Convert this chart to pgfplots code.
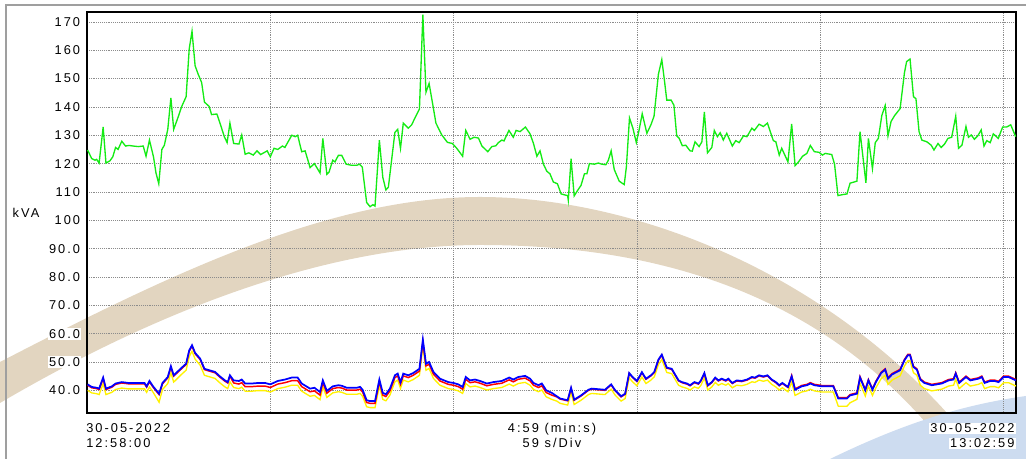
\documentclass[border=0pt]{standalone}
\usepackage{pgfplots}
\pgfplotsset{compat=1.18}
\usepackage{fontspec}
\setmainfont{Liberation Sans}[LetterSpace=16]
\newcommand\lab{\fontsize{9.6}{11}\selectfont}
\definecolor{cgreen}{RGB}{20,235,20}
\definecolor{cbeige}{RGB}{226,213,192}
\definecolor{cwblue}{RGB}{205,220,240}
\begin{document}
\begin{tikzpicture}
\begin{scope}[x=0.75pt,y=0.75pt]
\path[use as bounding box] (0,0) rectangle (1026,459);
% watermark
\fill[cbeige] (0,97) .. controls (170,185) and (330,262) .. (480,262)
  .. controls (640,262) and (850,180) .. (985,0) -- (955,0)
  .. controls (830,170) and (650,214) .. (480,214)
  .. controls (330,214) and (160,150) .. (0,56) -- cycle;
\fill[cwblue] (830,0) .. controls (900,34) and (960,54) .. (1026,63) -- (1026,0) -- cycle;
% outer frame
\draw[gray!75, line width=1pt] (6,0) -- (6,454) -- (1026,454);
\end{scope}
\begin{axis}[
  at={(65.25pt,34.5pt)}, anchor=south west,
  scale only axis, width=696.75pt, height=300.75pt,
  xmin=0, xmax=299, ymin=32, ymax=173.5,
  xtick={59,118,177,236,295}, xticklabels={},
  ytick={40,50,...,170},
  yticklabels={40.0,50.0,60.0,70.0,80.0,90.0,100,110,120,130,140,150,160,170},
  /pgf/number format/assume math mode=true,
  grid=major,
  major grid style={black!45, densely dotted, line width=0.6pt},
  major tick length=0pt,
  axis line style={black, line width=1.6pt},
  yticklabel style={font=\lab, inner sep=1pt, fill=white, xshift=-4pt},
]
\addplot[cgreen, line width=1pt] coordinates {
(0.2,124.8)(1.5,121.8)(2.6,121.2)(3.1,121.5)(3.9,120.2)(5.2,132.9)(6.1,120.2)(7.4,121.0)(8.3,122.4)(9.2,125.7)
(10.0,125.0)(11.2,127.9)(12.4,126.2)(13.5,126.4)(14.9,126.2)(16.5,126.0)(18.1,126.2)(19.0,122.6)(20.1,128.3)(21.4,122.4)
(22.2,116.7)(23.1,112.9)(24.1,125.0)(24.9,126.5)(26.0,132.1)(27.0,143.2)(27.9,132.1)(29.1,135.7)(30.5,140.2)(31.9,143.6)
(32.9,160.5)(33.8,166.7)(34.8,154.5)(35.8,151.5)(36.9,148.6)(37.8,141.7)(39.3,140.2)(40.1,137.3)(41.8,137.5)(42.8,134.3)
(44.2,129.5)(45.1,127.4)(46.0,134.3)(47.2,127.1)(48.9,126.9)(49.8,130.1)(50.9,123.3)(52.1,123.8)(53.5,123.0)(54.7,124.5)
(55.9,123.2)(58.0,124.5)(59.0,122.4)(60.2,125.4)(61.4,125.0)(62.9,126.2)(63.7,125.7)(65.9,130.0)(67.0,129.5)(67.8,130.0)
(69.1,124.2)(70.2,124.5)(71.8,118.6)(73.2,120.0)(75.0,116.7)(75.9,128.9)(77.2,116.2)(77.9,117.0)(79.1,121.2)(79.8,120.6)
(80.9,122.9)(82.0,122.9)(83.4,119.8)(85.2,119.4)(86.8,119.4)(87.7,119.8)(88.6,118.8)(90.0,106.3)(91.1,104.8)(92.0,105.5)
(92.7,105.0)(94.1,128.3)(95.2,115.2)(96.2,110.7)(97.0,111.7)(98.1,121.8)(99.1,131.0)(100.0,132.1)(100.9,125.4)(101.8,134.3)
(103.4,132.5)(104.5,133.7)(105.9,136.9)(107.0,139.3)(108.1,172.6)(109.1,145.2)(110.1,148.3)(111.2,141.4)(112.3,134.3)(114.2,130.1)
(116.0,127.5)(117.6,127.1)(119.0,125.4)(120.9,122.6)(121.9,131.7)(123.3,128.6)(124.6,129.3)(126.0,129.0)(127.1,126.2)(129.0,124.2)
(130.3,126.0)(131.6,126.3)(132.4,127.4)(133.5,128.3)(134.2,128.0)(135.8,131.7)(137.2,129.3)(138.1,131.7)(139.4,131.3)(141.1,132.9)
(142.6,130.5)(143.7,127.1)(144.8,122.6)(145.8,124.5)(146.9,119.8)(148.0,117.3)(149.0,116.4)(150.1,113.5)(151.4,112.9)(152.6,109.3)
(153.6,109.0)(154.7,108.7)(154.9,107.1)(155.8,121.7)(156.8,108.6)(158.0,110.7)(159.0,112.3)(160.1,116.4)(160.9,116.4)(161.7,120.0)
(163.3,119.8)(164.6,120.2)(165.7,119.8)(167.0,119.6)(167.8,121.2)(168.7,124.5)(169.7,117.9)(171.3,113.8)(172.9,112.6)(173.6,118.8)
(174.6,136.1)(175.7,132.5)(176.8,127.4)(177.7,131.9)(178.7,137.6)(180.2,130.7)(181.5,133.7)(182.5,136.7)(183.9,151.5)(185.0,156.7)
(185.8,149.8)(186.6,142.4)(188.0,142.4)(188.9,140.6)(189.8,129.8)(190.6,128.9)(191.6,126.3)(192.7,126.5)(194.1,124.5)(194.8,124.4)
(195.7,127.7)(197.0,126.0)(197.9,127.7)(198.7,138.2)(199.7,123.8)(201.1,125.7)(201.9,131.7)(202.9,129.5)(203.8,130.9)(204.8,128.3)
(205.9,130.7)(207.7,126.2)(208.8,128.1)(209.9,127.4)(211.3,129.8)(212.4,129.5)(214.0,132.5)(214.8,131.7)(216.3,133.9)(217.7,133.1)
(219.0,134.3)(220.9,128.1)(221.7,127.7)(222.8,123.0)(223.6,125.4)(225.6,120.6)(226.8,134.0)(227.9,119.3)(229.0,120.6)(230.3,122.6)
(231.7,123.6)(232.8,126.4)(234.1,124.2)(235.6,124.0)(236.7,123.0)(237.6,123.6)(239.7,123.2)(240.6,119.8)(241.7,108.7)(242.9,109.0)
(244.6,109.3)(245.6,113.1)(247.8,113.8)(248.8,131.3)(250.7,113.2)(251.5,128.9)(252.8,118.2)(253.7,127.4)(254.7,128.9)(255.8,136.9)
(256.9,140.5)(257.8,129.8)(258.8,134.9)(259.9,136.9)(261.7,139.4)(263.1,152.1)(263.8,156.0)(264.9,156.9)(266.0,143.6)(266.8,142.9)
(267.8,131.3)(268.7,128.3)(270.3,127.7)(271.7,126.5)(272.6,124.8)(273.9,127.1)(274.9,125.7)(276.0,126.9)(277.1,128.9)(278.3,129.3)
(279.6,136.7)(280.5,125.4)(281.6,126.5)(282.9,133.1)(283.7,129.3)(284.6,130.1)(285.6,128.6)(286.7,129.8)(287.8,131.9)(288.7,126.2)
(289.6,128.1)(290.7,127.4)(291.7,130.5)(293.3,128.9)(294.7,132.9)(296.0,132.9)(297.3,133.7)(298.9,129.5)
};
% yellow
\addplot[yellow, line width=1pt] coordinates {
(0.2,40.0)(1.5,39.1)(3.1,38.8)(3.9,38.5)(5.2,42.4)(6.1,38.5)(8.0,39.3)(9.2,40.3)(11.2,40.8)(13.3,40.5)
(18.5,40.5)(19.2,39.3)(20.1,41.2)(21.4,39.1)(23.2,35.8)(24.3,40.3)(26.0,42.4)(27.0,46.2)(27.9,42.9)(30.5,45.7)
(31.9,47.1)(32.9,51.9)(33.8,53.8)(34.8,51.0)(36.4,48.9)(37.8,45.3)(39.3,44.8)(41.2,44.2)(42.8,42.6)(44.4,41.2)
(45.3,40.6)(46.0,43.0)(47.2,41.0)(48.9,40.6)(49.8,41.1)(50.9,39.7)(53.0,39.7)(55.2,39.9)(57.3,39.9)(59.0,39.4)
(61.4,40.6)(63.7,41.1)(65.9,41.8)(67.8,41.8)(69.1,39.7)(71.8,37.9)(73.2,38.2)(75.0,36.7)(75.9,41.2)(77.2,37.5)
(79.1,39.1)(80.9,39.5)(82.0,39.3)(83.6,38.6)(86.8,38.6)(87.9,38.9)(88.7,37.9)(90.0,34.2)(91.1,33.9)(92.7,33.9)
(94.1,41.5)(95.2,36.8)(96.2,36.3)(97.5,38.3)(99.1,43.0)(100.0,43.6)(100.9,40.6)(101.8,43.6)(103.4,43.0)(105.0,43.8)
(107.0,45.3)(108.1,55.6)(109.1,47.1)(110.1,47.7)(111.5,44.2)(113.6,41.8)(116.3,40.6)(117.9,40.3)(119.5,39.8)(120.9,38.9)
(121.9,42.4)(123.3,41.2)(124.9,41.5)(126.5,41.0)(128.7,40.1)(130.8,40.6)(133.5,41.0)(135.9,42.2)(137.2,41.5)(138.8,42.4)
(141.0,42.8)(142.6,41.8)(143.7,40.3)(145.3,39.5)(146.4,40.1)(147.8,37.7)(149.6,36.8)(151.2,36.2)(152.3,35.4)(154.7,34.8)
(155.8,39.2)(156.8,35.0)(159.0,36.5)(161.4,38.5)(162.4,38.9)(166.7,38.5)(168.7,40.4)(170.0,38.3)(171.9,36.2)(173.2,37.1)
(174.5,44.4)(175.6,43.0)(177.0,41.6)(178.6,44.7)(179.9,42.4)(181.5,43.6)(182.6,44.8)(183.9,49.1)(185.0,50.9)(186.6,46.3)
(188.2,45.9)(189.1,44.2)(190.4,41.8)(191.5,41.2)(193.1,40.7)(194.1,40.1)(195.5,41.2)(196.8,40.7)(197.6,41.8)(198.7,44.4)
(199.8,40.1)(201.1,41.2)(202.2,42.8)(203.2,41.8)(204.3,42.4)(205.6,41.8)(206.4,42.4)(207.7,40.9)(209.1,41.8)(210.7,41.6)
(212.4,42.1)(214.0,43.0)(215.0,42.8)(216.3,43.6)(217.7,43.2)(219.0,43.6)(220.4,42.1)(221.7,41.2)(222.8,40.1)(223.8,40.9)
(225.6,39.5)(226.8,42.9)(227.9,38.2)(230.0,39.4)(231.7,39.8)(232.8,40.4)(234.1,39.8)(236.5,39.4)(240.2,39.4)(241.8,34.4)
(244.6,34.4)(245.6,35.6)(247.8,36.8)(248.8,42.5)(250.5,38.0)(251.5,41.5)(252.8,38.2)(253.9,40.9)(255.6,44.1)(256.9,45.3)
(257.8,42.1)(259.1,43.6)(261.7,45.1)(263.1,48.6)(264.2,50.4)(264.9,50.4)(266.0,46.2)(267.1,45.3)(268.2,41.8)(269.5,40.6)
(271.9,39.8)(273.5,40.1)(275.1,40.4)(277.3,41.5)(278.9,41.8)(279.6,43.9)(280.7,40.6)(282.9,42.7)(284.3,41.5)(285.6,41.8)
(286.9,42.1)(288.0,42.7)(288.9,40.6)(290.7,41.3)(292.1,41.3)(293.4,40.9)(295.0,42.7)(296.6,42.7)(299.0,41.5)
};
% red
\addplot[red, line width=1.1pt] coordinates {
(0.2,41.8)(1.5,40.9)(3.1,40.6)(3.9,40.3)(5.2,44.2)(6.1,40.3)(8.0,41.1)(9.2,42.1)(11.2,42.6)(13.3,42.3)
(18.5,42.3)(19.2,41.1)(20.1,43.0)(21.4,40.9)(23.2,38.5)(24.3,42.3)(26.0,44.4)(27.0,48.2)(27.9,45.0)(30.5,47.7)
(31.9,49.1)(32.9,53.8)(33.8,55.6)(34.8,52.9)(36.4,50.9)(37.8,47.3)(39.3,46.8)(41.2,46.2)(42.8,44.6)(44.4,43.2)
(45.3,42.6)(46.0,45.0)(47.2,42.6)(48.9,42.2)(49.8,42.7)(50.9,41.3)(53.0,41.3)(55.2,41.5)(57.3,41.5)(59.0,41.0)
(61.4,42.2)(63.7,42.7)(65.9,43.4)(67.8,43.4)(69.1,41.3)(71.8,39.5)(73.2,39.8)(75.0,38.3)(75.9,42.7)(77.2,39.0)
(79.1,40.6)(80.9,41.0)(82.0,40.8)(83.6,40.1)(86.8,40.1)(87.9,40.4)(88.7,39.4)(90.0,35.7)(91.1,35.4)(92.7,35.4)
(94.1,43.0)(95.2,38.3)(96.2,37.8)(97.5,39.8)(99.1,44.5)(100.0,45.1)(100.9,42.1)(101.8,45.1)(103.4,44.5)(105.0,45.3)
(107.0,46.8)(108.1,57.1)(109.1,48.6)(110.1,49.2)(111.5,45.7)(113.6,43.3)(116.3,42.1)(117.9,41.8)(119.5,41.3)(120.9,40.4)
(121.9,43.9)(123.3,42.7)(124.9,43.0)(126.5,42.5)(128.7,41.6)(130.8,42.1)(133.5,42.5)(135.9,43.7)(137.2,43.0)(138.8,43.9)
(141.0,44.3)(142.6,43.3)(143.7,41.8)(145.3,41.0)(146.4,41.6)(147.8,39.2)(149.6,38.3)(151.2,37.7)(152.3,36.9)(154.7,36.3)
(155.8,40.7)(156.8,36.5)(159.0,38.0)(161.4,40.0)(162.4,40.4)(166.7,40.0)(168.7,41.9)(170.0,39.8)(171.9,37.7)(173.2,38.6)
(174.5,45.9)(175.6,44.5)(177.0,43.1)(178.6,46.2)(179.9,43.9)(181.5,45.1)(182.6,46.3)(183.9,50.6)(185.0,52.4)(186.6,47.8)
(188.2,47.4)(189.1,45.7)(190.4,43.3)(191.5,42.7)(193.1,42.2)(194.1,41.6)(195.5,42.7)(196.8,42.2)(197.6,43.3)(198.7,45.9)
(199.8,41.6)(201.1,42.7)(202.2,44.3)(203.2,43.3)(204.3,43.9)(205.6,43.3)(206.4,43.9)(207.7,42.4)(209.1,43.3)(210.7,43.1)
(212.4,43.6)(214.0,44.5)(215.0,44.3)(216.3,45.1)(217.7,44.7)(219.0,45.1)(220.4,43.6)(221.7,42.7)(222.8,41.6)(223.8,42.4)
(225.6,41.0)(226.8,45.2)(227.9,40.5)(230.0,41.7)(231.7,42.1)(232.8,42.7)(234.1,42.1)(236.5,41.7)(240.2,41.7)(241.8,37.4)
(244.6,37.4)(245.6,38.5)(247.8,39.1)(248.8,44.8)(250.5,40.3)(251.5,43.8)(252.8,40.5)(253.9,43.2)(255.6,46.4)(256.9,47.6)
(257.8,44.4)(259.1,45.9)(261.7,47.4)(263.1,50.9)(264.2,52.7)(264.9,52.7)(266.0,48.5)(267.1,47.6)(268.2,44.1)(269.5,42.9)
(271.9,42.1)(273.5,42.4)(275.1,42.7)(277.3,43.8)(278.9,44.1)(279.6,46.2)(280.7,42.9)(282.9,45.0)(284.3,43.8)(285.6,44.1)
(286.9,44.4)(288.0,45.0)(288.9,42.9)(290.7,43.6)(292.1,43.6)(293.4,43.2)(295.0,45.0)(296.6,45.0)(299.0,43.8)
};
% blue
\addplot[blue, line width=1.3pt] coordinates {
(0.2,42.1)(1.5,41.2)(3.1,40.9)(3.9,40.6)(5.2,44.5)(6.1,40.6)(8.0,41.4)(9.2,42.4)(11.2,42.9)(13.3,42.6)
(18.5,42.6)(19.2,41.4)(20.1,43.3)(21.4,41.2)(23.2,38.8)(24.3,42.6)(26.0,44.7)(27.0,48.5)(27.9,45.3)(30.5,48.0)
(31.9,49.4)(32.9,54.1)(33.8,55.9)(34.8,53.2)(36.4,51.2)(37.8,47.6)(39.3,47.1)(41.2,46.5)(42.8,44.9)(44.4,43.5)
(45.3,42.9)(46.0,45.3)(47.2,43.5)(48.9,43.3)(49.8,43.8)(50.9,42.4)(53.0,42.4)(55.2,42.6)(57.3,42.6)(59.0,42.1)
(61.4,43.3)(63.7,43.8)(65.9,44.5)(67.8,44.5)(69.1,42.4)(71.8,40.6)(73.2,40.9)(75.0,39.4)(75.9,43.5)(77.2,39.8)
(79.1,41.4)(80.9,41.8)(82.0,41.6)(83.6,40.9)(86.8,40.9)(87.9,41.2)(88.7,40.2)(90.0,36.5)(91.1,36.2)(92.7,36.2)
(94.1,43.8)(95.2,39.1)(96.2,38.6)(97.5,40.6)(99.1,45.3)(100.0,45.9)(100.9,42.9)(101.8,45.9)(103.4,45.3)(105.0,46.1)
(107.0,47.6)(108.1,57.9)(109.1,49.4)(110.1,50.0)(111.5,46.5)(113.6,44.1)(116.3,42.9)(117.9,42.6)(119.5,42.1)(120.9,41.2)
(121.9,44.7)(123.3,43.5)(124.9,43.8)(126.5,43.3)(128.7,42.4)(130.8,42.9)(133.5,43.3)(135.9,44.5)(137.2,43.8)(138.8,44.7)
(141.0,45.1)(142.6,44.1)(143.7,42.6)(145.3,41.8)(146.4,42.4)(147.8,40.0)(149.6,39.1)(151.2,37.9)(152.3,37.1)(154.7,36.5)
(155.8,40.9)(156.8,36.7)(159.0,38.2)(161.4,40.2)(162.4,40.6)(166.7,40.2)(168.7,42.1)(170.0,40.0)(171.9,37.9)(173.2,38.8)
(174.5,46.1)(175.6,44.7)(177.0,43.3)(178.6,46.4)(179.9,44.1)(181.5,45.3)(182.6,46.5)(183.9,50.8)(185.0,52.6)(186.6,48.0)
(188.2,47.6)(189.1,45.9)(190.4,43.5)(191.5,42.9)(193.1,42.4)(194.1,41.8)(195.5,42.9)(196.8,42.4)(197.6,43.5)(198.7,46.1)
(199.8,41.8)(201.1,42.9)(202.2,44.5)(203.2,43.5)(204.3,44.1)(205.6,43.5)(206.4,44.1)(207.7,42.6)(209.1,43.5)(210.7,43.3)
(212.4,43.8)(214.0,44.7)(215.0,44.5)(216.3,45.3)(217.7,44.9)(219.0,45.3)(220.4,43.8)(221.7,42.9)(222.8,41.8)(223.8,42.6)
(225.6,41.2)(226.8,44.9)(227.9,40.2)(230.0,41.4)(231.7,41.8)(232.8,42.4)(234.1,41.8)(236.5,41.4)(240.2,41.4)(241.8,37.1)
(244.6,37.1)(245.6,38.2)(247.8,38.8)(248.8,44.5)(250.5,40.0)(251.5,43.5)(252.8,40.2)(253.9,42.9)(255.6,46.1)(256.9,47.3)
(257.8,44.1)(259.1,45.6)(261.7,47.1)(263.1,50.6)(264.2,52.4)(264.9,52.4)(266.0,48.2)(267.1,47.3)(268.2,43.8)(269.5,42.6)
(271.9,41.8)(273.5,42.1)(275.1,42.4)(277.3,43.5)(278.9,43.8)(279.6,45.9)(280.7,42.6)(282.9,44.7)(284.3,43.5)(285.6,43.8)
(286.9,44.1)(288.0,44.7)(288.9,42.6)(290.7,43.3)(292.1,43.3)(293.4,42.9)(295.0,44.7)(296.6,44.7)(299.0,43.5)
};
\end{axis}
\begin{scope}[x=0.75pt,y=0.75pt]
\node[font=\lab, anchor=center] at (26,246) {kVA};
\node[font=\lab, anchor=base west, inner sep=0pt] at (86,26) {30-05-2022};
\node[font=\lab, anchor=base west, inner sep=0pt] at (86,11) {12:58:00};
\node[font=\lab, anchor=base, inner sep=0pt] at (552,26) {4:59 (min:s)};
\node[font=\lab, anchor=base, inner sep=0pt] at (552,11) {59 s/Div};
\node[font=\lab, anchor=base east, inner sep=1pt, fill=white] at (1016,26) {30-05-2022};
\node[font=\lab, anchor=base east, inner sep=1pt, fill=white] at (1016,11) {13:02:59};
\end{scope}
\end{tikzpicture}
\end{document}
